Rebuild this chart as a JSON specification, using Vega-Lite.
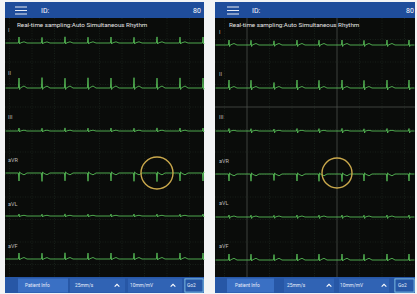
{
"$schema":"https://vega.github.io/schema/vega-lite/v6.json",
"background":"#f3f4f5",
"padding":0,
"spacing":0,
"config":{"view":{"stroke":null},"concat":{"spacing":0}},
"datasets":{
"rL":[
{"k":"header","x":5,"x2":204,"y":2,"y2":18},
{"k":"screen","x":5,"x2":204,"y":18,"y2":277},
{"k":"bar","x":5,"x2":204,"y":277,"y2":293},
{"k":"btn","x":18,"x2":68,"y":278.5,"y2":292.5},
{"k":"seg","x":70,"x2":125,"y":278.5,"y2":292.5},
{"k":"seg","x":128,"x2":182,"y":278.5,"y2":292.5},
{"k":"goborder","x":184.5,"x2":203.5,"y":278.5,"y2":292.5},
{"k":"gofill","x":185.3,"x2":202.7,"y":279.3,"y2":291.7}
],
"rR":[
{"k":"header","x":6,"x2":206,"y":2,"y2":18},
{"k":"screen","x":6,"x2":206,"y":18,"y2":277},
{"k":"bar","x":6,"x2":206,"y":277,"y2":293},
{"k":"btn","x":18,"x2":65,"y":278.5,"y2":292.5},
{"k":"seg","x":75,"x2":125,"y":278.5,"y2":292.5},
{"k":"seg","x":130,"x2":180,"y":278.5,"y2":292.5},
{"k":"goborder","x":185.5,"x2":205.5,"y":278.5,"y2":292.5},
{"k":"gofill","x":186.3,"x2":204.7,"y":279.3,"y2":291.7}
],
"gL":[
{"k":"minor","x":9.5,"x2":9.5,"y":18,"y2":277},
{"k":"minor","x":32,"x2":32,"y":18,"y2":277},
{"k":"minor","x":54.5,"x2":54.5,"y":18,"y2":277},
{"k":"minor","x":77,"x2":77,"y":18,"y2":277},
{"k":"minor","x":99.5,"x2":99.5,"y":18,"y2":277},
{"k":"minor","x":122,"x2":122,"y":18,"y2":277},
{"k":"minor","x":144.5,"x2":144.5,"y":18,"y2":277},
{"k":"minor","x":167,"x2":167,"y":18,"y2":277},
{"k":"minor","x":189.5,"x2":189.5,"y":18,"y2":277},
{"k":"minor","x":5,"x2":204,"y":39.5,"y2":39.5},
{"k":"minor","x":5,"x2":204,"y":62,"y2":62},
{"k":"minor","x":5,"x2":204,"y":84.5,"y2":84.5},
{"k":"minor","x":5,"x2":204,"y":107,"y2":107},
{"k":"minor","x":5,"x2":204,"y":129.5,"y2":129.5},
{"k":"minor","x":5,"x2":204,"y":152,"y2":152},
{"k":"minor","x":5,"x2":204,"y":174.5,"y2":174.5},
{"k":"minor","x":5,"x2":204,"y":197,"y2":197},
{"k":"minor","x":5,"x2":204,"y":219.5,"y2":219.5},
{"k":"minor","x":5,"x2":204,"y":242,"y2":242},
{"k":"minor","x":5,"x2":204,"y":264.5,"y2":264.5},
{"k":"icon","x":15,"x2":27,"y":7,"y2":7},
{"k":"icon","x":15,"x2":27,"y":10.5,"y2":10.5},
{"k":"icon","x":15,"x2":27,"y":14,"y2":14}
],
"gR":[
{"k":"minor","x":15.5,"x2":15.5,"y":18,"y2":277},
{"k":"major","x":38,"x2":38,"y":18,"y2":277},
{"k":"minor","x":60.5,"x2":60.5,"y":18,"y2":277},
{"k":"minor","x":83,"x2":83,"y":18,"y2":277},
{"k":"minor","x":105.5,"x2":105.5,"y":18,"y2":277},
{"k":"major","x":128,"x2":128,"y":18,"y2":277},
{"k":"minor","x":150.5,"x2":150.5,"y":18,"y2":277},
{"k":"minor","x":173,"x2":173,"y":18,"y2":277},
{"k":"minor","x":195.5,"x2":195.5,"y":18,"y2":277},
{"k":"minor","x":6,"x2":206,"y":39.5,"y2":39.5},
{"k":"minor","x":6,"x2":206,"y":62,"y2":62},
{"k":"minor","x":6,"x2":206,"y":84.5,"y2":84.5},
{"k":"major","x":6,"x2":206,"y":107,"y2":107},
{"k":"minor","x":6,"x2":206,"y":129.5,"y2":129.5},
{"k":"minor","x":6,"x2":206,"y":152,"y2":152},
{"k":"minor","x":6,"x2":206,"y":174.5,"y2":174.5},
{"k":"minor","x":6,"x2":206,"y":197,"y2":197},
{"k":"minor","x":6,"x2":206,"y":219.5,"y2":219.5},
{"k":"minor","x":6,"x2":206,"y":242,"y2":242},
{"k":"minor","x":6,"x2":206,"y":264.5,"y2":264.5},
{"k":"icon","x":18,"x2":30,"y":7,"y2":7},
{"k":"icon","x":18,"x2":30,"y":10.5,"y2":10.5},
{"k":"icon","x":18,"x2":30,"y":14,"y2":14}
],
"eL":[
{"x":5.5,"I":43,"II":88,"III":131,"aVR":173,"aVL":216,"aVF":259},
{"x":18.4,"I":43,"II":88,"III":131,"aVR":173,"aVL":216,"aVF":259},
{"x":19,"I":37,"II":78,"III":128,"aVR":181,"aVL":214,"aVF":253},
{"x":19.6,"I":44,"II":89.5,"III":132,"aVR":171.8,"aVL":217,"aVF":260},
{"x":20.2,"I":43,"II":88,"III":131,"aVR":173,"aVL":216,"aVF":259},
{"x":24,"I":41.8,"II":86,"III":130.2,"aVR":174.8,"aVL":215.3,"aVF":257.5},
{"x":27,"I":43,"II":88,"III":131,"aVR":173,"aVL":216,"aVF":259},
{"x":41.4,"I":43,"II":88,"III":131,"aVR":173,"aVL":216,"aVF":259},
{"x":42,"I":37.4,"II":77.6,"III":128.2,"aVR":181.4,"aVL":214.2,"aVF":253.2},
{"x":42.6,"I":44,"II":89.4,"III":132,"aVR":171.9,"aVL":217,"aVF":260},
{"x":43.2,"I":43,"II":88,"III":131,"aVR":173,"aVL":216,"aVF":259},
{"x":47,"I":41.9,"II":86.1,"III":130.2,"aVR":174.7,"aVL":215.3,"aVF":257.6},
{"x":50,"I":43,"II":88,"III":131,"aVR":173,"aVL":216,"aVF":259},
{"x":64.4,"I":43,"II":88,"III":131,"aVR":173,"aVL":216,"aVF":259},
{"x":65,"I":36.8,"II":78.2,"III":127.9,"aVR":180.8,"aVL":213.9,"aVF":252.8},
{"x":65.6,"I":44,"II":89.5,"III":132,"aVR":171.8,"aVL":217,"aVF":260},
{"x":66.2,"I":43,"II":88,"III":131,"aVR":173,"aVL":216,"aVF":259},
{"x":70,"I":41.8,"II":86,"III":130.2,"aVR":174.8,"aVL":215.3,"aVF":257.5},
{"x":73,"I":43,"II":88,"III":131,"aVR":173,"aVL":216,"aVF":259},
{"x":87.4,"I":43,"II":88,"III":131,"aVR":173,"aVL":216,"aVF":259},
{"x":88,"I":37.2,"II":77.8,"III":128.1,"aVR":181.2,"aVL":214.1,"aVF":253.1},
{"x":88.6,"I":44,"II":89.5,"III":132,"aVR":171.8,"aVL":217,"aVF":260},
{"x":89.2,"I":43,"II":88,"III":131,"aVR":173,"aVL":216,"aVF":259},
{"x":93,"I":41.8,"II":86,"III":130.2,"aVR":174.8,"aVL":215.3,"aVF":257.5},
{"x":96,"I":43,"II":88,"III":131,"aVR":173,"aVL":216,"aVF":259},
{"x":110.4,"I":43,"II":88,"III":131,"aVR":173,"aVL":216,"aVF":259},
{"x":111,"I":37,"II":78,"III":128,"aVR":181,"aVL":214,"aVF":253},
{"x":111.6,"I":44,"II":89.5,"III":132,"aVR":171.8,"aVL":217,"aVF":260},
{"x":112.2,"I":43,"II":88,"III":131,"aVR":173,"aVL":216,"aVF":259},
{"x":116,"I":41.8,"II":86,"III":130.2,"aVR":174.8,"aVL":215.3,"aVF":257.5},
{"x":119,"I":43,"II":88,"III":131,"aVR":173,"aVL":216,"aVF":259},
{"x":133.4,"I":43,"II":88,"III":131,"aVR":173,"aVL":216,"aVF":259},
{"x":134,"I":37.3,"II":77.7,"III":128.2,"aVR":181.3,"aVL":214,"aVF":253.2},
{"x":134.6,"I":44,"II":89.5,"III":132,"aVR":171.8,"aVL":217,"aVF":260},
{"x":135.2,"I":43,"II":88,"III":131,"aVR":173,"aVL":216,"aVF":259},
{"x":139,"I":41.8,"II":86,"III":130.2,"aVR":174.8,"aVL":215.3,"aVF":257.5},
{"x":142,"I":43,"II":88,"III":131,"aVR":173,"aVL":216,"aVF":259},
{"x":156.4,"I":43,"II":88,"III":131,"aVR":173,"aVL":216,"aVF":259},
{"x":157,"I":36.9,"II":78.1,"III":127.9,"aVR":181.6,"aVL":214.1,"aVF":252.9},
{"x":157.6,"I":44,"II":89.5,"III":132,"aVR":171.8,"aVL":217,"aVF":260},
{"x":158.2,"I":43,"II":88,"III":131,"aVR":173,"aVL":216,"aVF":259},
{"x":162,"I":41.8,"II":86,"III":130.2,"aVR":174.8,"aVL":215.3,"aVF":257.5},
{"x":165,"I":43,"II":88,"III":131,"aVR":173,"aVL":216,"aVF":259},
{"x":179.4,"I":43,"II":88,"III":131,"aVR":173,"aVL":216,"aVF":259},
{"x":180,"I":37.1,"II":77.9,"III":128,"aVR":181,"aVL":214.2,"aVF":253},
{"x":180.6,"I":44,"II":89.5,"III":132,"aVR":171.8,"aVL":217,"aVF":260},
{"x":181.2,"I":43,"II":88,"III":131,"aVR":173,"aVL":216,"aVF":259},
{"x":185,"I":41.8,"II":86,"III":130.2,"aVR":174.8,"aVL":215.3,"aVF":257.5},
{"x":188,"I":43,"II":88,"III":131,"aVR":173,"aVL":216,"aVF":259},
{"x":202.4,"I":43,"II":88,"III":131,"aVR":173,"aVL":216,"aVF":259},
{"x":203,"I":37,"II":78,"III":128,"aVR":181,"aVL":214,"aVF":253},
{"x":203.6,"I":44,"II":89.5,"III":132,"aVR":171.8,"aVL":217,"aVF":260},
{"x":204,"I":43,"II":88,"III":131,"aVR":173,"aVL":216,"aVF":259}
],
"eR":[
{"x":6.5,"I":45,"II":88,"III":131,"aVR":174,"aVL":217,"aVF":260},
{"x":19.4,"I":45,"II":88,"III":131,"aVR":174,"aVL":217,"aVF":260},
{"x":20,"I":40,"II":80,"III":128.5,"aVR":181,"aVL":215,"aVF":254},
{"x":20.6,"I":46.5,"II":90,"III":133,"aVR":172.8,"aVL":218.5,"aVF":261},
{"x":21.2,"I":45,"II":88,"III":131,"aVR":174,"aVL":217,"aVF":260},
{"x":25,"I":43.5,"II":86.5,"III":130.3,"aVR":175.8,"aVL":216,"aVF":258.3},
{"x":28,"I":45,"II":88,"III":131,"aVR":174,"aVL":217,"aVF":260},
{"x":41.4,"I":45,"II":88,"III":131,"aVR":174,"aVL":217,"aVF":260},
{"x":42,"I":40.3,"II":80.2,"III":128.7,"aVR":181.2,"aVL":215.1,"aVF":254.2},
{"x":42.6,"I":46.5,"II":90,"III":133,"aVR":172.8,"aVL":218.5,"aVF":261},
{"x":43.2,"I":45,"II":88,"III":131,"aVR":174,"aVL":217,"aVF":260},
{"x":47,"I":43.5,"II":86.5,"III":130.3,"aVR":175.8,"aVL":216,"aVF":258.3},
{"x":50,"I":45,"II":88,"III":131,"aVR":174,"aVL":217,"aVF":260},
{"x":64.4,"I":45,"II":88,"III":131,"aVR":174,"aVL":217,"aVF":260},
{"x":65,"I":40.8,"II":82.5,"III":129,"aVR":180.5,"aVL":215.3,"aVF":254.6},
{"x":65.6,"I":46.3,"II":89.5,"III":132.8,"aVR":172.9,"aVL":218.3,"aVF":260.8},
{"x":66.2,"I":45,"II":88,"III":131,"aVR":174,"aVL":217,"aVF":260},
{"x":70,"I":43.5,"II":86.5,"III":130.3,"aVR":175.8,"aVL":216,"aVF":258.3},
{"x":73,"I":45,"II":88,"III":131,"aVR":174,"aVL":217,"aVF":260},
{"x":87.4,"I":45,"II":88,"III":131,"aVR":174,"aVL":217,"aVF":260},
{"x":88,"I":40.1,"II":80,"III":128.5,"aVR":181,"aVL":215,"aVF":254},
{"x":88.6,"I":46.5,"II":90,"III":133,"aVR":172.8,"aVL":218.5,"aVF":261},
{"x":89.2,"I":45,"II":88,"III":131,"aVR":174,"aVL":217,"aVF":260},
{"x":93,"I":43.5,"II":86.5,"III":130.3,"aVR":175.8,"aVL":216,"aVF":258.3},
{"x":96,"I":45,"II":88,"III":131,"aVR":174,"aVL":217,"aVF":260},
{"x":109.4,"I":45,"II":88,"III":131,"aVR":174,"aVL":217,"aVF":260},
{"x":110,"I":40.2,"II":80.3,"III":128.6,"aVR":181.3,"aVL":215.1,"aVF":254.1},
{"x":110.6,"I":46.5,"II":90,"III":133,"aVR":172.8,"aVL":218.5,"aVF":261},
{"x":111.2,"I":45,"II":88,"III":131,"aVR":174,"aVL":217,"aVF":260},
{"x":115,"I":43.5,"II":86.5,"III":130.3,"aVR":175.8,"aVL":216,"aVF":258.3},
{"x":118,"I":45,"II":88,"III":131,"aVR":174,"aVL":217,"aVF":260},
{"x":132.4,"I":45,"II":88,"III":131,"aVR":174,"aVL":217,"aVF":260},
{"x":133,"I":40,"II":80,"III":128.4,"aVR":181.5,"aVL":215,"aVF":254},
{"x":133.6,"I":46.5,"II":90,"III":133,"aVR":172.8,"aVL":218.5,"aVF":261},
{"x":134.2,"I":45,"II":88,"III":131,"aVR":174,"aVL":217,"aVF":260},
{"x":138,"I":43.5,"II":86.5,"III":130.3,"aVR":175.8,"aVL":216,"aVF":258.3},
{"x":141,"I":45,"II":88,"III":131,"aVR":174,"aVL":217,"aVF":260},
{"x":154.4,"I":45,"II":88,"III":131,"aVR":174,"aVL":217,"aVF":260},
{"x":155,"I":40.4,"II":80.4,"III":128.8,"aVR":181,"aVL":215.2,"aVF":254.3},
{"x":155.6,"I":46.5,"II":90,"III":133,"aVR":172.8,"aVL":218.5,"aVF":261},
{"x":156.2,"I":45,"II":88,"III":131,"aVR":174,"aVL":217,"aVF":260},
{"x":160,"I":43.5,"II":86.5,"III":130.3,"aVR":175.8,"aVL":216,"aVF":258.3},
{"x":163,"I":45,"II":88,"III":131,"aVR":174,"aVL":217,"aVF":260},
{"x":177.4,"I":45,"II":88,"III":131,"aVR":174,"aVL":217,"aVF":260},
{"x":178,"I":40,"II":80.1,"III":128.5,"aVR":181.2,"aVL":215,"aVF":254},
{"x":178.6,"I":46.5,"II":90,"III":133,"aVR":172.8,"aVL":218.5,"aVF":261},
{"x":179.2,"I":45,"II":88,"III":131,"aVR":174,"aVL":217,"aVF":260},
{"x":183,"I":43.5,"II":86.5,"III":130.3,"aVR":175.8,"aVL":216,"aVF":258.3},
{"x":186,"I":45,"II":88,"III":131,"aVR":174,"aVL":217,"aVF":260},
{"x":199.4,"I":45,"II":88,"III":131,"aVR":174,"aVL":217,"aVF":260},
{"x":200,"I":40,"II":80,"III":128.5,"aVR":181,"aVL":215,"aVF":254},
{"x":200.6,"I":46.5,"II":90,"III":133,"aVR":172.8,"aVL":218.5,"aVF":261},
{"x":201.2,"I":45,"II":88,"III":131,"aVR":174,"aVL":217,"aVF":260},
{"x":205.5,"I":45,"II":88,"III":131,"aVR":174,"aVL":217,"aVF":260}
],
"cL":[{"x":157,"y":173}],
"cR":[{"x":128,"y":173}],
"vL":[{"x":117,"y":285.5},{"x":173,"y":285.5}],
"vR":[{"x":120,"y":285.5},{"x":175,"y":285.5}],
"tL":[
{"t":"ID:","x":41,"y":10.5,"k":"hdr"},
{"t":"80","x":193,"y":10.5,"k":"hdr"},
{"t":"Real-time sampling:Auto Simultaneous Rhythm","x":17,"y":24.5,"k":"sub"},
{"t":"I","x":8,"y":30,"k":"lead"},
{"t":"II","x":8,"y":73,"k":"lead"},
{"t":"III","x":8,"y":117,"k":"lead"},
{"t":"aVR","x":8,"y":160,"k":"lead"},
{"t":"aVL","x":8,"y":204,"k":"lead"},
{"t":"aVF","x":8,"y":246,"k":"lead"},
{"t":"Patient Info","x":25,"y":285.5,"k":"btn"},
{"t":"25mm/s","x":75,"y":285.5,"k":"btn"},
{"t":"10mm/mV","x":130,"y":285.5,"k":"btn"},
{"t":"Go2","x":187,"y":285.5,"k":"btn"}
],
"tR":[
{"t":"ID:","x":43,"y":10.5,"k":"hdr"},
{"t":"80","x":197,"y":10.5,"k":"hdr"},
{"t":"Real-time sampling:Auto Simultaneous Rhythm","x":20,"y":24.5,"k":"sub"},
{"t":"I","x":10,"y":32,"k":"lead"},
{"t":"II","x":10,"y":74,"k":"lead"},
{"t":"III","x":10,"y":117,"k":"lead"},
{"t":"aVR","x":10,"y":161,"k":"lead"},
{"t":"aVL","x":10,"y":203,"k":"lead"},
{"t":"aVF","x":10,"y":246,"k":"lead"},
{"t":"Patient Info","x":26,"y":285.5,"k":"btn"},
{"t":"25mm/s","x":78,"y":285.5,"k":"btn"},
{"t":"10mm/mV","x":131,"y":285.5,"k":"btn"},
{"t":"Go2","x":189,"y":285.5,"k":"btn"}
]
},
"hconcat":[
{
"width":209,"height":294,
"resolve":{"scale":{"color":"independent","size":"independent","strokeWidth":"independent","strokeDash":"independent"}},
"encoding":{
"x":{"field":"x","type":"quantitative","scale":{"domain":[0,209],"nice":false,"zero":false},"axis":null},
"y":{"field":"y","type":"quantitative","scale":{"domain":[0,294],"reverse":true,"nice":false,"zero":false},"axis":null}
},
"layer":[
{"data":{"name":"rL"},"mark":{"type":"rect"},"encoding":{"x2":{"field":"x2"},"y2":{"field":"y2"},"color":{"field":"k","type":"nominal","scale":{"domain":["header","screen","bar","btn","seg","goborder","gofill"],"range":["#1f4d9b","#0a0c0a","#2757a6","#3a70c4","#3063b4","#8fd3f0","#2757a6"]},"legend":null}}},
{"data":{"name":"gL"},"mark":{"type":"rule"},"encoding":{"x2":{"field":"x2"},"y2":{"field":"y2"},"color":{"field":"k","type":"nominal","scale":{"domain":["minor","major","icon"],"range":["#1c2a1f","#4a4f4a","#ffffff"]},"legend":null},"strokeWidth":{"field":"k","type":"ordinal","scale":{"domain":["minor","major","icon"],"range":[0.7,0.9,1.6]},"legend":null},"strokeDash":{"field":"k","type":"nominal","scale":{"domain":["minor","major","icon"],"range":[[1,1.5],[1,0],[1,0]]},"legend":null}}},
{"data":{"name":"eL"},"transform":[{"fold":["I","II","III","aVR","aVL","aVF"],"as":["lead","y"]}],"mark":{"type":"line","color":"#55b955","strokeWidth":0.9,"clip":true},"encoding":{"detail":{"field":"lead"}}},
{"data":{"name":"cL"},"mark":{"type":"point","shape":"circle","filled":false,"size":1024,"color":"#c9a84c","strokeWidth":1.4,"opacity":1}},
{"data":{"name":"vL"},"mark":{"type":"point","shape":"M-1,0.5L0,-0.5L1,0.5","filled":false,"size":22,"color":"#ffffff","strokeWidth":1.1,"opacity":1}},
{"data":{"name":"tL"},"mark":{"type":"text","align":"left","baseline":"middle","font":"Roboto"},"encoding":{"text":{"field":"t"},"color":{"field":"k","type":"nominal","scale":{"domain":["hdr","sub","lead","btn"],"range":["#ffffff","#e6e6e6","#bbbbbb","#e8eefa"]},"legend":null},"size":{"field":"k","type":"ordinal","scale":{"domain":["hdr","sub","lead","btn"],"range":[7,4.8,4.5,5.8]},"legend":null}}}
]
},
{
"width":208,"height":294,
"resolve":{"scale":{"color":"independent","size":"independent","strokeWidth":"independent","strokeDash":"independent"}},
"encoding":{
"x":{"field":"x","type":"quantitative","scale":{"domain":[0,208],"nice":false,"zero":false},"axis":null},
"y":{"field":"y","type":"quantitative","scale":{"domain":[0,294],"reverse":true,"nice":false,"zero":false},"axis":null}
},
"layer":[
{"data":{"name":"rR"},"mark":{"type":"rect"},"encoding":{"x2":{"field":"x2"},"y2":{"field":"y2"},"color":{"field":"k","type":"nominal","scale":{"domain":["header","screen","bar","btn","seg","goborder","gofill"],"range":["#1f4d9b","#0a0c0a","#2757a6","#3a70c4","#3063b4","#8fd3f0","#2757a6"]},"legend":null}}},
{"data":{"name":"gR"},"mark":{"type":"rule"},"encoding":{"x2":{"field":"x2"},"y2":{"field":"y2"},"color":{"field":"k","type":"nominal","scale":{"domain":["minor","major","icon"],"range":["#1c2a1f","#4a4f4a","#ffffff"]},"legend":null},"strokeWidth":{"field":"k","type":"ordinal","scale":{"domain":["minor","major","icon"],"range":[0.7,0.9,1.6]},"legend":null},"strokeDash":{"field":"k","type":"nominal","scale":{"domain":["minor","major","icon"],"range":[[1,1.5],[1,0],[1,0]]},"legend":null}}},
{"data":{"name":"eR"},"transform":[{"fold":["I","II","III","aVR","aVL","aVF"],"as":["lead","y"]}],"mark":{"type":"line","color":"#55b955","strokeWidth":0.9,"clip":true},"encoding":{"detail":{"field":"lead"}}},
{"data":{"name":"cR"},"mark":{"type":"point","shape":"circle","filled":false,"size":900,"color":"#c9a84c","strokeWidth":1.4,"opacity":1}},
{"data":{"name":"vR"},"mark":{"type":"point","shape":"M-1,0.5L0,-0.5L1,0.5","filled":false,"size":22,"color":"#ffffff","strokeWidth":1.1,"opacity":1}},
{"data":{"name":"tR"},"mark":{"type":"text","align":"left","baseline":"middle","font":"Roboto"},"encoding":{"text":{"field":"t"},"color":{"field":"k","type":"nominal","scale":{"domain":["hdr","sub","lead","btn"],"range":["#ffffff","#e6e6e6","#bbbbbb","#e8eefa"]},"legend":null},"size":{"field":"k","type":"ordinal","scale":{"domain":["hdr","sub","lead","btn"],"range":[7,4.8,4.5,5.8]},"legend":null}}}
]
}
]
}
